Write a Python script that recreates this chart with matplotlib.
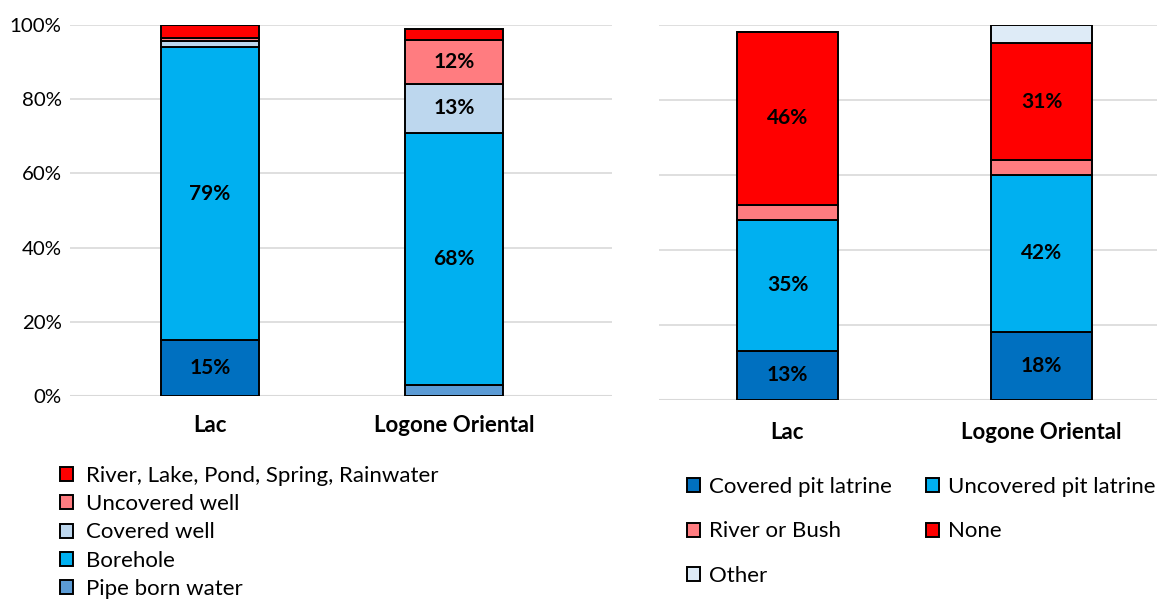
import matplotlib
matplotlib.use("Agg")
import matplotlib.pyplot as plt
import numpy as np

plt.rcParams['font.family'] = ['Lato', 'DejaVu Sans']

# --- Water source by region ---
regions = ["Lac", "Logone Oriental"]
water_series = ["Pipe born water", "Borehole", "Covered well", "Uncovered well",
                "River, Lake, Pond, Spring, Rainwater"]
pipe_born = [15, 3]
borehole = [79, 68]
covered_well = [1.7, 13]
uncovered_well = [0.8, 12]
river_lake = [3.5, 3]
water_values = [pipe_born, borehole, covered_well, uncovered_well, river_lake]
water_colors = ["#5B9BD5", "#00B0F0", "#BDD7EE", "#FF7C80", "#FF0000"]
lac_pipe_color = "#0070C0"

# --- Sanitation by region ---
san_series = ["Covered pit latrine", "Uncovered pit latrine", "River or Bush", "None", "Other"]
covered_pit = [13, 18]
uncovered_pit = [35, 42]
river_bush = [4, 4]
no_facility = [46, 31]
other = [0, 5]
san_values = [covered_pit, uncovered_pit, river_bush, no_facility, other]
san_colors = ["#0070C0", "#00B0F0", "#FF7C80", "#FF0000", "#DEEBF7"]

yticks = [0, 20, 40, 60, 80, 100]
ytick_labels = ["0%", "20%", "40%", "60%", "80%", "100%"]

W, H = 1157, 601
fig = plt.figure(figsize=(W / 100, H / 100), dpi=100)


def px_axes(x0, x1, y_top, y_bot):
    return fig.add_axes([x0 / W, (H - y_bot) / H, (x1 - x0) / W, (y_bot - y_top) / H])


def stacked(ax, values, colors, names, bar_width, label_min=10, override=None):
    x = np.arange(len(regions))
    bottom = np.zeros(len(regions))
    handles = []
    for i, (vals, col, name) in enumerate(zip(values, colors, names)):
        vals = np.array(vals, dtype=float)
        bars = ax.bar(x, vals / 100, bar_width, bottom=bottom / 100, color=col,
                      edgecolor="black", linewidth=1.4, label=name, zorder=3)
        if override and i in override:
            for j, c in override[i].items():
                bars.patches[j].set_facecolor(c)
        handles.append(bars)
        for j, v in enumerate(vals):
            if v >= label_min:
                ax.text(x[j], (bottom[j] + v / 2) / 100, f"{round(v)}%", ha="center",
                        va="center", fontsize=15, fontweight="bold", color="black", zorder=4)
        bottom += vals
    ax.set_xticks(x)
    ax.set_xticklabels(regions, fontsize=16, fontweight="bold")
    ax.tick_params(axis="x", length=0)
    ax.set_ylim(0, 1)
    for s in ax.spines.values():
        s.set_visible(False)
    ax.set_yticks([t / 100 for t in yticks])
    ax.yaxis.grid(True, color="#D9D9D9", linewidth=1.2, zorder=0)
    ax.set_axisbelow(True)
    return handles


# Left: water source
ax1 = px_axes(70, 612, 25, 396)
h1 = stacked(ax1, water_values, water_colors, water_series, 0.40,
             override={0: {0: lac_pipe_color}})
ax1.set_xlim(-0.574, 1.648)
ax1.set_yticklabels(ytick_labels, fontsize=14.7)
ax1.tick_params(axis="y", length=0, pad=6)
ax1.tick_params(axis="x", pad=14)
ax1.axhline(0, color="#D9D9D9", linewidth=1.5, zorder=1)

# Right: sanitation
ax2 = px_axes(659, 1157, 24.7, 399.7)
h2 = stacked(ax2, san_values, san_colors, san_series, 0.40)
ax2.set_xlim(-0.506, 1.455)
ax2.set_yticklabels([])
ax2.tick_params(axis="y", length=0)
ax2.tick_params(axis="x", pad=16)
ax2.axhline(0, color="#D9D9D9", linewidth=1.5, zorder=1)

# Legends
leg1 = fig.legend(handles=h1[::-1], labels=water_series[::-1], loc="upper left",
                  bbox_to_anchor=(60 / W, 1 - 466 / H), frameon=False, fontsize=16,
                  handlelength=0.6, handleheight=0.6, handletextpad=0.55,
                  labelspacing=0.37, borderpad=0, borderaxespad=0)
order = [0, 2, 4, 1, 3]
leg2 = fig.legend(handles=[h2[i] for i in order], labels=[san_series[i] for i in order],
                  loc="upper left", ncol=2, bbox_to_anchor=(687 / W, 1 - 477 / H),
                  frameon=False, fontsize=16, handlelength=0.6, handleheight=0.6,
                  handletextpad=0.4, labelspacing=1.1, columnspacing=1.52,
                  borderpad=0, borderaxespad=0)
for leg, cols in ((leg1, water_colors[::-1]), (leg2, [san_colors[i] for i in order])):
    for p, c in zip(leg.legend_handles, cols):
        p.set_facecolor(c)
        p.set_linewidth(1.4)

fig.savefig("out.png", dpi=100, facecolor="white")
